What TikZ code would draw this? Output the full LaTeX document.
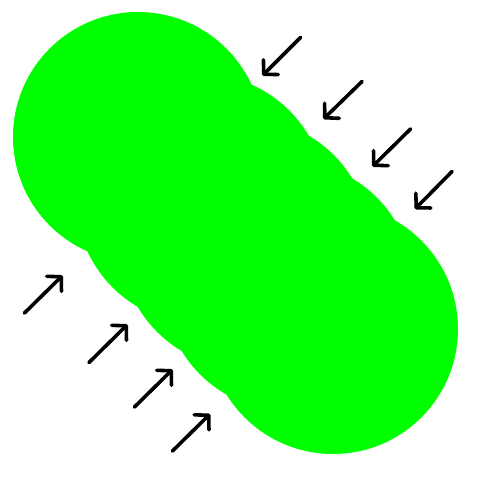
\documentclass[tikz,border=0pt]{standalone}
\usetikzlibrary{arrows.meta}
\definecolor{blobgreen}{HTML}{00FF00}
\tikzset{
  blob/.style={fill=blobgreen, draw=none},
  pusharrow/.style={draw=black, line width=3.6pt, line cap=round,
    -{Straight Barb[length=10pt,width=21pt,line cap=round,line join=round]}}
}
\begin{document}
\begin{tikzpicture}[x=1pt,y=-1pt]
\useasboundingbox (0,0) rectangle (500,500);
% overlapping circles
\foreach \cx/\cy in {138/137, 201/199, 245.5/243.5, 288.5/286, 333/329}
  \fill[blob] (\cx,\cy) circle (125);
% arrow end points
\coordinate (u1s) at (300.5,37.5);  \coordinate (u1e) at (262.5,75.5);
\coordinate (u2s) at (362,81.5);    \coordinate (u2e) at (323.5,119);
\coordinate (u3s) at (410.5,129);   \coordinate (u3e) at (372.5,166.5);
\coordinate (u4s) at (452,171.5);   \coordinate (u4e) at (415,209);
\coordinate (l1s) at (24.5,313);    \coordinate (l1e) at (62.5,275.5);
\coordinate (l2s) at (89,362.5);    \coordinate (l2e) at (127.5,324.5);
\coordinate (l3s) at (134.5,407);   \coordinate (l3e) at (172.5,369.5);
\coordinate (l4s) at (172.5,451);   \coordinate (l4e) at (210,414);
\foreach \a in {u1,u2,u3,u4,l1,l2,l3,l4}
  \draw[pusharrow] (\a s) -- (\a e);
\end{tikzpicture}
\end{document}
